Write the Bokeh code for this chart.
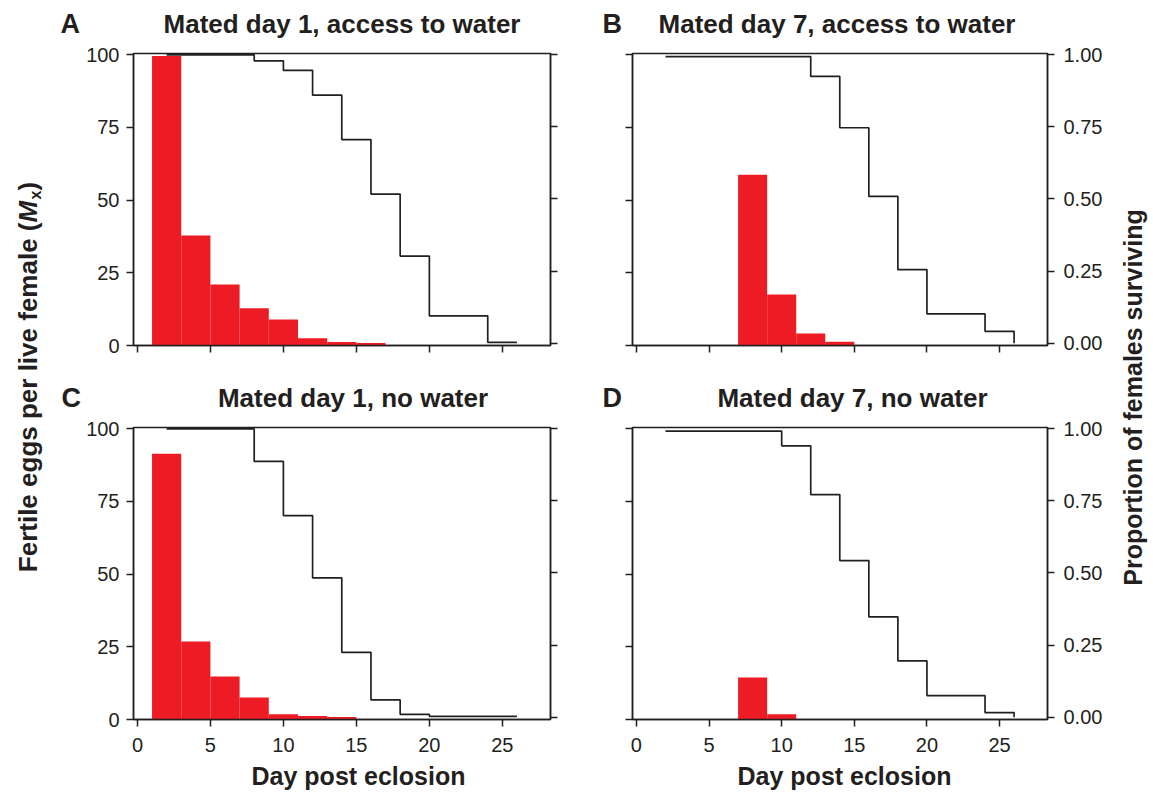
import math
from bokeh.plotting import figure
from bokeh.layouts import row, column
from bokeh.models import (Range1d, LinearAxis, FixedTicker, Label,
                          CustomJSTickFormatter, PrintfTickFormatter)
from bokeh.embed import file_html
from bokeh.resources import INLINE

# ---------------- data ----------------
x_ticks = [0, 5, 10, 15, 20, 25]
egg_ticks = [0, 25, 50, 75, 100]
surv_ticks = [0, 0.25, 0.5, 0.75, 1.0]

# fertile eggs per live female, 2-day bins (bin centres)
egg_days_A = [2, 4, 6, 8, 10, 12, 14, 16]
eggs_A = [99.5, 37.8, 21.0, 12.8, 8.9, 2.5, 1.2, 0.9]
egg_days_B = [8, 10, 12, 14]
eggs_B = [58.7, 17.5, 4.1, 1.3]
egg_days_C = [2, 4, 6, 8, 10, 12, 14]
eggs_C = [91.4, 26.8, 14.8, 7.6, 1.8, 1.2, 0.9]
egg_days_D = [8, 10]
eggs_D = [14.4, 1.8]

# proportion of females surviving
surv_days = [2, 4, 6, 8, 10, 12, 14, 16, 18, 20, 22, 24, 26]
surv_A = [1.0, 1.0, 1.0, 0.979, 0.946, 0.860, 0.706, 0.517, 0.302, 0.095, 0.095, 0.003, 0.003]
surv_B = [0.994, 0.994, 0.994, 0.994, 0.994, 0.925, 0.747, 0.509, 0.255, 0.102, 0.102, 0.041, 0.0]
surv_C = [1.0, 1.0, 1.0, 0.887, 0.699, 0.483, 0.225, 0.060, 0.010, 0.003, 0.003, 0.003, 0.003]
surv_D = [0.992, 0.992, 0.992, 0.992, 0.941, 0.772, 0.543, 0.348, 0.195, 0.075, 0.075, 0.016, 0.0]

titles = ["Mated day 1, access to water", "Mated day 7, access to water",
          "Mated day 1, no water", "Mated day 7, no water"]
letters = ["A", "B", "C", "D"]
x_label = "Day post eclosion"
y_label_left = "Fertile eggs per live female ("
y_label_right = "Proportion of females surviving"

# ---------------- style ----------------
INK = "#231f20"
RED = "#ed1c24"
FONT = "Liberation Sans"
XR = (-0.27, 28.3)
YR = (0, 100.4)
SR = (-0.008, 1.0045)

# page geometry (pixels)
LW, AW, BW, RW = 58, 532, 515, 45
MW = AW + BW
H_HEAD1, H_ROW1, H_HEAD2, H_ROW2, H_FOOT = 45, 336, 38, 342, 31
TOT_H = H_HEAD1 + H_ROW1 + H_HEAD2 + H_ROW2 + H_FOOT


def style_axis(ax, show_labels, standoff=7):
    ax.axis_line_color = INK
    ax.axis_line_width = 1.5
    ax.major_tick_line_color = INK
    ax.major_tick_line_width = 1.5
    ax.major_tick_out = 7
    ax.major_tick_in = 0
    ax.minor_tick_line_color = None
    ax.major_label_text_font = FONT
    ax.major_label_text_font_size = "20px"
    ax.major_label_text_color = INK
    ax.major_label_standoff = standoff
    if not show_labels:
        ax.formatter = CustomJSTickFormatter(code="return ''")


def make_panel(w, h, bl, br, bt, bb, egg_days, eggs, surv, left_lab, right_lab, bottom_lab):
    p = figure(width=w, height=h, x_range=Range1d(*XR), y_range=Range1d(*YR),
               min_border_left=bl, min_border_right=br, min_border_top=bt,
               min_border_bottom=bb, x_axis_location=None, y_axis_location=None,
               output_backend="svg", toolbar_location=None)
    p.grid.visible = False
    p.extra_y_ranges = {"surv": Range1d(*SR)}
    p.outline_line_color = INK
    p.outline_line_width = 1.5
    p.background_fill_color = "white"
    p.border_fill_color = "white"

    xa = LinearAxis(ticker=FixedTicker(ticks=x_ticks))
    style_axis(xa, bottom_lab, 11)
    p.add_layout(xa, "below")
    ya = LinearAxis(ticker=FixedTicker(ticks=egg_ticks))
    style_axis(ya, left_lab, 7)
    p.add_layout(ya, "left")
    ra = LinearAxis(y_range_name="surv", ticker=FixedTicker(ticks=surv_ticks),
                    formatter=PrintfTickFormatter(format="%.2f"))
    style_axis(ra, right_lab, 9)
    p.add_layout(ra, "right")

    p.vbar(x=egg_days, width=2, top=eggs, bottom=0, fill_color=RED, line_color=None)
    p.step(x=surv_days, y=surv, mode="after", line_color=INK, line_width=1.7,
           y_range_name="surv")
    return p


def strip(w, h):
    """blank figure whose data coordinates equal its own pixel coordinates"""
    s = figure(width=w, height=h, x_range=Range1d(0, w), y_range=Range1d(0, h),
               min_border=0, x_axis_location=None, y_axis_location=None,
               output_backend="svg", toolbar_location=None)
    s.grid.visible = False
    s.outline_line_color = None
    s.border_fill_color = "white"
    s.background_fill_color = "white"
    return s


def lab(p, text, x, y, size, align="left", style="bold", angle=0.0):
    # compensate the renderer's baseline shift (about 0.37 em) along the text's "up"
    sh = 0.37 * size
    p.add_layout(Label(x=x - math.sin(angle) * sh, y=y + math.cos(angle) * sh,
                       text=text, text_font=FONT, text_font_size=f"{size}px",
                       text_font_style=style, text_color=INK, text_align=align,
                       text_baseline="alphabetic", angle=angle))


pA = make_panel(AW, H_ROW1, 75, 40, 8, 36, egg_days_A, eggs_A, surv_A, True, False, False)
pB = make_panel(BW, H_ROW1, 42, 56, 8, 36, egg_days_B, eggs_B, surv_B, False, True, False)
pC = make_panel(AW, H_ROW2, 75, 40, 8, 42, egg_days_C, eggs_C, surv_C, True, False, True)
pD = make_panel(BW, H_ROW2, 42, 56, 8, 42, egg_days_D, eggs_D, surv_D, False, True, True)

# header strips (strip x = page x - LW ; y measured up from the strip bottom)
h1 = strip(MW, H_HEAD1)
h2 = strip(MW, H_HEAD2)
f2 = strip(MW, H_FOOT)


def hx(px):
    return px - LW


lab(h1, letters[0], hx(60), H_HEAD1 - 33, 27)
lab(h1, titles[0], hx(341.5), H_HEAD1 - 33, 26, "center")
lab(h1, letters[1], hx(602), H_HEAD1 - 33, 27)
lab(h1, titles[1], hx(836.5), H_HEAD1 - 33, 26, "center")
top2 = H_HEAD1 + H_ROW1
lab(h2, letters[2], hx(61), top2 + H_HEAD2 - 407, 27)
lab(h2, titles[2], hx(352.5), top2 + H_HEAD2 - 407, 26, "center")
lab(h2, letters[3], hx(602), top2 + H_HEAD2 - 407, 27)
lab(h2, titles[3], hx(852), top2 + H_HEAD2 - 407, 26, "center")
lab(f2, x_label, hx(358), TOT_H - 785, 25, "center")
lab(f2, x_label, hx(844), TOT_H - 785, 25, "center")

# left label strip
lf = strip(LW, TOT_H)
Y0 = 222          # page y where "(" ends
bx = 37           # page x of the text baseline
lab(lf, y_label_left, bx, TOT_H - Y0, 26, "right", angle=math.pi / 2)
lab(lf, "M", bx, TOT_H - Y0, 26, "left", style="bold italic", angle=math.pi / 2)
lab(lf, "x", bx + 4, TOT_H - (Y0 - 23), 16, "left", angle=math.pi / 2)
lab(lf, ")", bx, TOT_H - (Y0 - 32), 26, "left", angle=math.pi / 2)

# right label strip
rf = strip(RW, TOT_H)
lab(rf, y_label_right, 1142 - (LW + MW), TOT_H - 397, 25, "center", angle=math.pi / 2)

middle = column(h1, row(pA, pB), h2, row(pC, pD), f2)
layout = row(lf, middle, rf)
open("out.html", "w").write(file_html(layout, INLINE))
